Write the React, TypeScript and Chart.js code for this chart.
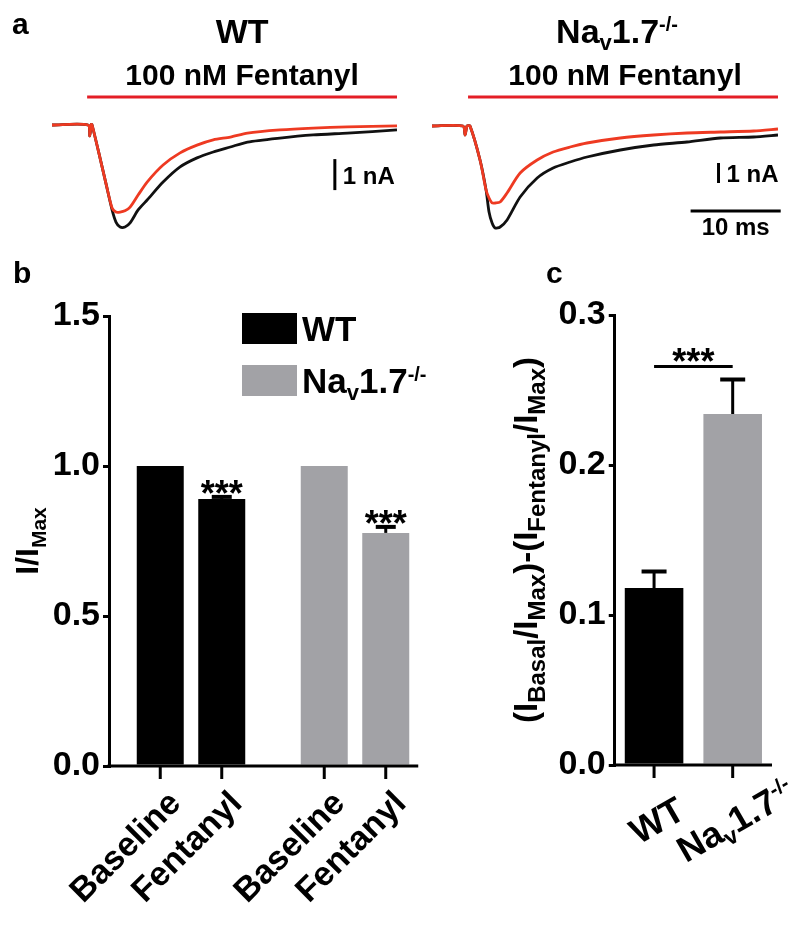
import React, { useEffect, useRef } from 'react';
import { Chart, registerables } from 'chart.js';

Chart.register(...registerables);

const FONT = '"Liberation Sans", Arial, Helvetica, sans-serif';
const RED_TRACE = '#ee3a22';
const RED_BAR = '#e41e26';
const BLACK = '#000000';
const GRAY = '#a2a2a6';

// ---------- Panel a: current traces (time in ms, current in nA) ----------
const wtTime = [0, 4.0, 4.2, 4.35, 4.45, 5.33, 6.0, 6.67, 7.1, 7.56, 8.1, 8.67, 9.56, 10.56, 12.33, 14.22, 16.1, 17.9, 19.8, 21.7, 25.3, 29.0, 32.8, 38.3];
const wtBaselineTrace = [0, 0, -0.35, 0.02, 0, -1.06, -1.9, -2.74, -3.13, -3.29, -3.29, -3.16, -2.74, -2.42, -1.84, -1.35, -1.06, -0.87, -0.71, -0.55, -0.42, -0.32, -0.26, -0.16];
const wtFentanylTrace = [0, 0, -0.35, 0.02, 0, -1.06, -1.9, -2.68, -2.81, -2.81, -2.77, -2.65, -2.26, -1.84, -1.29, -0.9, -0.65, -0.48, -0.39, -0.26, -0.16, -0.1, -0.06, -0.03];

const navTime = [0, 3.44, 3.67, 3.89, 4.22, 5.33, 6.0, 6.33, 6.67, 7.0, 7.56, 8.33, 9.78, 11.67, 13.44, 15.33, 17.2, 20.9, 24.6, 28.3, 32.0, 35.7, 38.4];
const navBaselineTrace = [0, 0, -0.45, 0, 0, -1.7, -3.2, -4.3, -4.85, -5.1, -5.05, -4.7, -3.55, -2.6, -2.1, -1.8, -1.55, -1.2, -0.95, -0.8, -0.6, -0.55, -0.45];
const navFentanylTrace = [0, 0, -0.45, 0, 0, -1.7, -3.2, -3.6, -3.85, -3.85, -3.8, -3.35, -2.35, -1.7, -1.3, -1.05, -0.85, -0.6, -0.45, -0.35, -0.3, -0.25, -0.15];

const traceTitles = ['WT', 'Na_{v}1.7^{-/-}'];
const drugLabel = '100 nM Fentanyl';
const drugWindows = [[3.9, 38.3], [4.0, 38.4]]; // ms
const drugBarLevel = [0.9, 1.45]; // nA (above traces)
const currentBar = [{ t: 31.4, from: -1.1 }, { t: 31.8, from: -1.85 }]; // 1 nA bars
const timeBar = { from: 28.7, len: 10, level: -4.25 }; // 10 ms bar

// ---------- Panel b ----------
const genotypes = ['WT', 'Na_{v}1.7^{-/-}'];
const conditions = ['Baseline', 'Fentanyl'];
const wtMeans = [1.0, 0.89];
const wtSem = [0, 0.007];
const navMeans = [1.0, 0.777];
const navSem = [0, 0.02];
const bYTicks = [0, 0.5, 1.0, 1.5];
const bYTitle = 'I/I_{Max}';
const bStars = ['', '***'];

// ---------- Panel c ----------
const diffMeans = [0.118, 0.234];
const diffSem = [0.011, 0.023];
const cYTicks = [0, 0.1, 0.2, 0.3];
const cYTitle = '(I_{Basal}/I_{Max})-(I_{Fentanyl}/I_{Max})';
const cStars = '***';

const genotypeColors = [BLACK, GRAY];

type Seg = { t: string; k: 'n' | 'sub' | 'sup' };
function parseRich(s: string): Seg[] {
  const out: Seg[] = [];
  const re = /_\{([^}]*)\}|\^\{([^}]*)\}|([^_^]+)/g;
  let m: RegExpExecArray | null;
  while ((m = re.exec(s))) {
    if (m[1] !== undefined) out.push({ t: m[1], k: 'sub' });
    else if (m[2] !== undefined) out.push({ t: m[2], k: 'sup' });
    else out.push({ t: m[3], k: 'n' });
  }
  return out;
}

function drawRich(
  ctx: CanvasRenderingContext2D,
  text: string,
  x: number,
  y: number,
  size: number,
  opt: { align?: string; angle?: number; subSize?: number; supSize?: number; subShift?: number; supShift?: number } = {}
) {
  const segs = parseRich(text);
  const subSize = opt.subSize ?? size * 0.65;
  const supSize = opt.supSize ?? size * 0.6;
  const subShift = opt.subShift ?? size * 0.22;
  const supShift = opt.supShift ?? size * 0.35;
  const fontFor = (k: string) => `bold ${k === 'sub' ? subSize : k === 'sup' ? supSize : size}px ${FONT}`;
  ctx.save();
  ctx.translate(x, y);
  if (opt.angle) ctx.rotate(opt.angle);
  ctx.fillStyle = BLACK;
  ctx.textBaseline = 'alphabetic';
  ctx.textAlign = 'left';
  let total = 0;
  const widths = segs.map((s) => {
    ctx.font = fontFor(s.k);
    const w = ctx.measureText(s.t).width;
    total += w;
    return w;
  });
  let cx = opt.align === 'center' ? -total / 2 : opt.align === 'right' ? -total : 0;
  segs.forEach((s, i) => {
    ctx.font = fontFor(s.k);
    const dy = s.k === 'sub' ? subShift : s.k === 'sup' ? -supShift : 0;
    ctx.fillText(s.t, cx, dy);
    cx += widths[i];
  });
  ctx.restore();
}

function line(ctx: CanvasRenderingContext2D, x1: number, y1: number, x2: number, y2: number, w = 3, color = BLACK) {
  ctx.save();
  ctx.strokeStyle = color;
  ctx.lineWidth = w;
  ctx.lineCap = 'butt';
  ctx.beginPath();
  ctx.moveTo(x1, y1);
  ctx.lineTo(x2, y2);
  ctx.stroke();
  ctx.restore();
}

function stars(ctx: CanvasRenderingContext2D, text: string, cx: number, cy: number) {
  ctx.save();
  ctx.font = `bold 36px ${FONT}`;
  ctx.fillStyle = BLACK;
  ctx.textAlign = 'center';
  ctx.textBaseline = 'alphabetic';
  ctx.fillText(text, cx, cy + 20);
  ctx.restore();
}

function traceConfig(
  idx: number,
  time: number[],
  base: number[],
  fent: number[],
  yMin: number,
  yMax: number,
  padding: any
): any {
  const plugin = {
    id: 'traceDecor' + idx,
    afterDraw(chart: any) {
      const { ctx } = chart;
      const x = chart.scales.x;
      const y = chart.scales.y;
      // drug application bar
      const yb = y.getPixelForValue(drugBarLevel[idx]);
      line(ctx, x.getPixelForValue(drugWindows[idx][0]), yb, x.getPixelForValue(drugWindows[idx][1]), yb, 3, RED_BAR);
      const mid = (x.getPixelForValue(drugWindows[idx][0]) + x.getPixelForValue(drugWindows[idx][1])) / 2;
      // titles
      drawRich(ctx, traceTitles[idx], mid - (idx === 0 ? 0 : 6), 43, 34, { align: 'center', subSize: 22, subShift: 7, supSize: 20, supShift: 12 });
      drawRich(ctx, drugLabel, mid + (idx === 0 ? 0 : 2), 85, 30, { align: 'center' });
      // 1 nA scale bar
      const cb = currentBar[idx];
      const bx = x.getPixelForValue(cb.t);
      const by1 = y.getPixelForValue(cb.from);
      const by2 = y.getPixelForValue(cb.from - 1);
      line(ctx, bx, by1, bx, by2, 3);
      drawRich(ctx, '1 nA', bx + 8, (by1 + by2) / 2 + 9, 24, {});
      if (idx === 0) {
        drawRich(ctx, 'a', 12, 34, 30, {});
      } else {
        const ty = y.getPixelForValue(timeBar.level);
        const tx1 = x.getPixelForValue(timeBar.from);
        const tx2 = x.getPixelForValue(timeBar.from + timeBar.len);
        line(ctx, tx1, ty, tx2, ty, 3);
        drawRich(ctx, timeBar.len + ' ms', (tx1 + tx2) / 2, ty + 24, 24, { align: 'center' });
      }
    },
  };
  return {
    type: 'line',
    data: {
      datasets: [
        { data: time.map((t, i) => ({ x: t, y: fent[i] })), borderColor: RED_TRACE, borderWidth: 2.8, pointRadius: 0, tension: 0.25 },
        { data: time.map((t, i) => ({ x: t, y: base[i] })), borderColor: '#111111', borderWidth: 2.8, pointRadius: 0, tension: 0.25 },
      ],
    },
    options: {
      responsive: false,
      animation: false,
      events: [],
      layout: { padding },
      plugins: { legend: { display: false }, tooltip: { enabled: false } },
      scales: {
        x: { type: 'linear', display: false, min: 0, max: time[time.length - 1] },
        y: { type: 'linear', display: false, min: yMin, max: yMax },
      },
    },
    plugins: [plugin],
  };
}

function yAxisOptions(ticks: number[], width: number): any {
  return {
    type: 'linear',
    min: ticks[0],
    max: ticks[ticks.length - 1],
    afterFit: (scale: any) => {
      scale.width = width;
    },
    afterBuildTicks: (scale: any) => {
      scale.ticks = ticks.map((v) => ({ value: v }));
    },
    border: { display: true, color: BLACK, width: 3 },
    grid: { display: true, drawOnChartArea: false, drawTicks: true, tickLength: 6, lineWidth: 3, color: BLACK },
    ticks: {
      color: BLACK,
      padding: 3,
      font: { family: FONT, size: 34, weight: 'bold' },
      callback: (v: number) => Number(v).toFixed(1),
    },
  };
}

function barBConfig(): any {
  const plugin = {
    id: 'bDecor',
    afterDatasetsDraw(chart: any) {
      const { ctx, chartArea } = chart;
      const y = chart.scales.y;
      const y0 = y.getPixelForValue(0);
      const sems = [wtSem, navSem];
      const means = [wtMeans, navMeans];
      let lastRight = chartArea.left;
      conditions.forEach((cond, ci) => {
        const meta = chart.getDatasetMeta(ci);
        meta.data.forEach((bar: any, gi: number) => {
          lastRight = Math.max(lastRight, bar.x + bar.width / 2);
          // tick
          line(ctx, bar.x, y0, bar.x, y0 + 13, 3);
          // label
          drawRich(ctx, cond, bar.x + 22, y0 + 39, 34, { align: 'right', angle: -Math.PI / 4 });
          // error bar
          const sem = sems[gi][ci];
          const m = means[gi][ci];
          if (sem > 0) {
            const top = y.getPixelForValue(m + sem);
            line(ctx, bar.x, bar.y, bar.x, top, 3);
            line(ctx, bar.x - 10, top, bar.x + 10, top, 4);
          }
          if (bStars[ci]) {
            const top = y.getPixelForValue(m + sem);
            stars(ctx, bStars[ci], bar.x, top - 11);
          }
        });
      });
      // x axis line
      line(ctx, chartArea.left - 1.5, y0, lastRight + 9, y0, 3);
      // legend
      genotypes.forEach((g, gi) => {
        const top = 313 + gi * 52;
        ctx.fillStyle = genotypeColors[gi];
        ctx.fillRect(242, top, 55, 31);
        drawRich(ctx, g, 302, top + 28, 35, { subSize: 22, subShift: 7, supSize: 20, supShift: 12 });
      });
      // y title
      drawRich(ctx, bYTitle, 38, (chartArea.top + chartArea.bottom) / 2, 32, {
        align: 'center',
        angle: -Math.PI / 2,
        subSize: 21,
        subShift: 8,
      });
      drawRich(ctx, 'b', 13, 283, 30, {});
    },
  };
  return {
    type: 'bar',
    data: {
      labels: genotypes,
      datasets: conditions.map((c, ci) => ({
        label: c,
        data: [wtMeans[ci], navMeans[ci]],
        backgroundColor: genotypeColors,
        borderWidth: 0,
        categoryPercentage: 0.75,
        barPercentage: 0.764,
      })),
    },
    options: {
      responsive: false,
      animation: false,
      events: [],
      layout: { padding: { left: 0, top: 316, right: 363, bottom: 161 } },
      plugins: { legend: { display: false }, tooltip: { enabled: false } },
      scales: {
        x: { type: 'category', display: false, offset: true },
        y: yAxisOptions(bYTicks, 109),
      },
    },
    plugins: [plugin],
  };
}

function barCConfig(): any {
  const plugin = {
    id: 'cDecor',
    afterDatasetsDraw(chart: any) {
      const { ctx, chartArea } = chart;
      const y = chart.scales.y;
      const y0 = y.getPixelForValue(0);
      const meta = chart.getDatasetMeta(0);
      let minTop = Infinity;
      meta.data.forEach((bar: any, gi: number) => {
        line(ctx, bar.x, y0, bar.x, y0 + 13, 3);
        drawRich(ctx, genotypes[gi], bar.x + 9, y0 + 66, 36, {
          align: 'center',
          angle: -Math.PI / 6,
          subSize: 23,
          subShift: 7,
          supSize: 21,
          supShift: 13,
        });
        const top = y.getPixelForValue(diffMeans[gi] + diffSem[gi]);
        minTop = Math.min(minTop, top);
        line(ctx, bar.x, bar.y, bar.x, top, 3);
        line(ctx, bar.x - 12.5, top, bar.x + 12.5, top, 4);
      });
      line(ctx, chartArea.left - 1.5, y0, chartArea.right, y0, 3);
      const sigY = minTop - 13;
      const b0 = meta.data[0];
      const b1 = meta.data[1];
      line(ctx, b0.x, sigY, b1.x, sigY, 3);
      stars(ctx, cStars, (b0.x + b1.x) / 2, sigY - 13);
      drawRich(ctx, cYTitle, 537, (chartArea.top + chartArea.bottom) / 2, 33, {
        align: 'center',
        angle: -Math.PI / 2,
        subSize: 24,
        subShift: 8,
      });
      drawRich(ctx, 'c', 546, 283, 30, {});
    },
  };
  return {
    type: 'bar',
    data: {
      labels: genotypes,
      datasets: [
        {
          data: diffMeans,
          backgroundColor: genotypeColors,
          borderWidth: 0,
          categoryPercentage: 1,
          barPercentage: 0.745,
        },
      ],
    },
    options: {
      responsive: false,
      animation: false,
      events: [],
      layout: { padding: { left: 500, top: 315, right: 28, bottom: 162 } },
      plugins: { legend: { display: false }, tooltip: { enabled: false } },
      scales: {
        x: { type: 'category', display: false, offset: true },
        y: yAxisOptions(cYTicks, 114.75),
      },
    },
    plugins: [plugin],
  };
}

export default function App() {
  const r1 = useRef<HTMLCanvasElement>(null);
  const r2 = useRef<HTMLCanvasElement>(null);
  const r3 = useRef<HTMLCanvasElement>(null);
  const r4 = useRef<HTMLCanvasElement>(null);

  useEffect(() => {
    const charts: Chart[] = [];
    if (r1.current)
      charts.push(
        new Chart(
          r1.current,
          traceConfig(0, wtTime, wtBaselineTrace, wtFentanylTrace, -3.7, 0.5, { left: 52, right: 403, top: 109.5, bottom: 687.3 })
        )
      );
    if (r2.current)
      charts.push(
        new Chart(
          r2.current,
          traceConfig(1, navTime, navBaselineTrace, navFentanylTrace, -5.9, 0.8, { left: 432, right: 22, top: 110, bottom: 683 })
        )
      );
    if (r3.current) charts.push(new Chart(r3.current, barBConfig()));
    if (r4.current) charts.push(new Chart(r4.current, barCConfig()));
    return () => charts.forEach((c) => c.destroy());
  }, []);

  const cs: React.CSSProperties = { position: 'absolute', left: 0, top: 0 };
  return (
    <div style={{ position: 'absolute', left: 0, top: 0, width: 800, height: 927, background: '#ffffff', overflow: 'hidden' }}>
      <canvas ref={r1} width={800} height={927} style={cs} />
      <canvas ref={r2} width={800} height={927} style={cs} />
      <canvas ref={r3} width={800} height={927} style={cs} />
      <canvas ref={r4} width={800} height={927} style={cs} />
    </div>
  );
}
